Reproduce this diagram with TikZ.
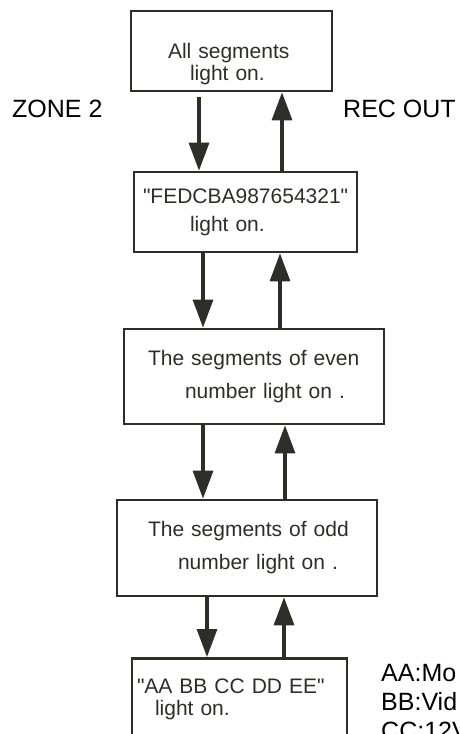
\documentclass[tikz,border=0pt]{standalone}
\usepackage{fontspec}
\setmainfont{Liberation Sans}
\usetikzlibrary{arrows.meta}
\definecolor{ink}{RGB}{45,45,42}
\tikzset{
  panel/.style={draw=ink, line width=2.7pt, text=ink, inner xsep=0pt, align=left},
  flow/.style={draw=ink, line width=3.2pt, -{Triangle[length=28pt,width=20pt]}},
  tag/.style={anchor=base west, inner sep=0pt, font=\fontsize{25}{29}\selectfont}
}
\begin{document}
\begin{tikzpicture}[x=1pt, y=-1pt]
    \useasboundingbox (0,0) rectangle (460,734);
    \clip (0,0) rectangle (460,734);

    \node[panel, text width=201pt, minimum height=80pt, text depth=0pt, font=\fontsize{21}{22}\selectfont] (b1) at (231.5,51)
        {\hspace*{37pt}All segments\\\hspace*{59pt}light on.};
    \node[panel, text width=223pt, minimum height=80pt, font=\fontsize{21}{28}\selectfont] (b2) at (245.5,212)
        {\hspace*{9pt}\textquotedbl FEDCBA987654321\textquotedbl\\\hspace*{56pt}light on.};
    \node[panel, text width=260pt, minimum height=95pt, font=\fontsize{21}{33}\selectfont] (b3) at (254,376.5)
        {\hspace*{24pt}The segments of even\\\hspace*{61pt}number light on .};
    \node[panel, text width=260pt, minimum height=96pt, font=\fontsize{21}{33}\selectfont] (b4) at (247,548)
        {\hspace*{31pt}The segments of odd\\\hspace*{61pt}number light on .};
    \node[panel, text width=215pt, anchor=north, inner ysep=20.5pt, text depth=40pt, font=\fontsize{21}{22}\selectfont] (b5) at (239.5,657)
        {\hspace*{5pt}\textquotedbl AA BB CC DD EE\textquotedbl\\\hspace*{23pt}light on.};

    \node[tag] (zone) at (12,117) {ZONE 2};
    \node[tag] (rec) at (343,117) {REC OUT};
    \node[tag] (aa) at (381,681) {AA:Mo};
    \node[tag] (bb) at (381,710) {BB:Vid};
    \node[tag] (cc) at (381,739) {CC:12V};

    \draw[flow, shorten <=5pt] (b1.south -| 199,0) -- (b2.north -| 199,0);
    \draw[flow] (b2.north -| 282,0) -- (b1.south -| 282,0);
    \draw[flow] (b2.south -| 203,0) -- (b3.north -| 203,0);
    \draw[flow] (b3.north -| 280,0) -- (b2.south -| 280,0);
    \draw[flow] (b3.south -| 203,0) -- (b4.north -| 203,0);
    \draw[flow] (b4.north -| 285,0) -- (b3.south -| 285,0);
    \draw[flow] (b4.south -| 207,0) -- (b5.north -| 207,0);
    \draw[flow] (b5.north -| 284,0) -- (b4.south -| 284,0);
\end{tikzpicture}
\end{document}
